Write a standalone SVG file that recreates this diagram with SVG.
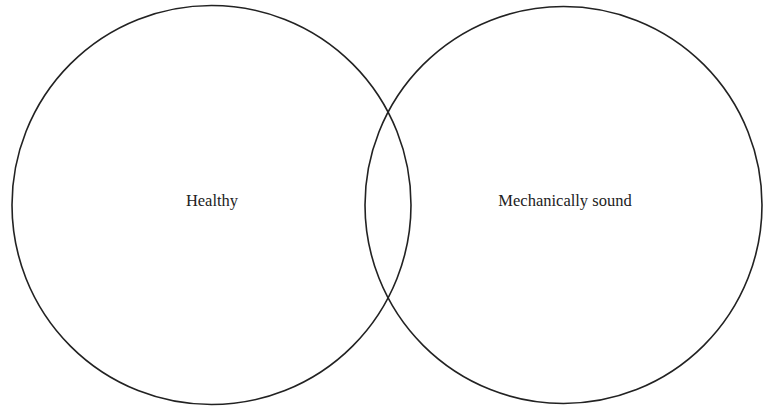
<svg xmlns="http://www.w3.org/2000/svg" width="764" height="408" viewBox="0 0 764 408">
<style>
.set{fill:none;stroke:#222;stroke-width:1.6}
.lbl{font-family:"Liberation Serif","DejaVu Serif",serif;font-size:16.5px;fill:#222;text-anchor:middle}
</style>
<rect width="764" height="408" fill="#fff"/>
<g id="healthy">
<circle class="set" cx="211.5" cy="205" r="199.5"/>
<text class="lbl" x="212" y="205.5">Healthy</text>
</g>
<g id="mechanically-sound">
<circle class="set" cx="563.5" cy="205" r="198.5"/>
<text class="lbl" x="565" y="205.5">Mechanically sound</text>
</g>
<g id="connectors"></g>
</svg>
